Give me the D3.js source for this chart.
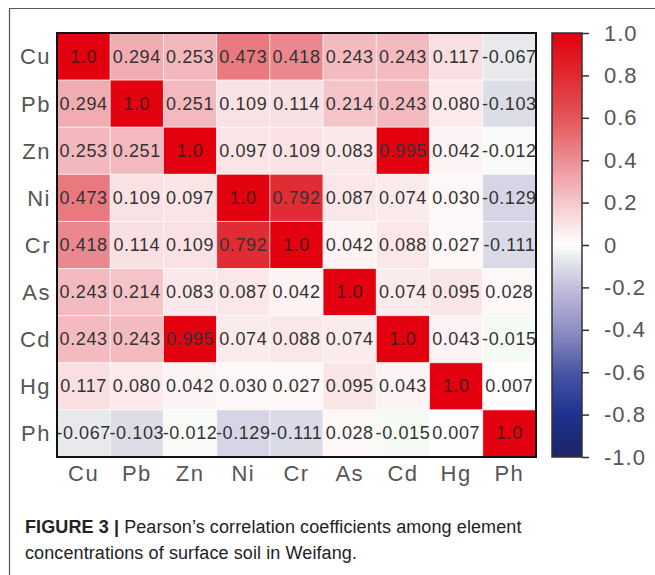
<!DOCTYPE html>
<html>
<head>
<meta charset="utf-8">
<script src="https://cdn.jsdelivr.net/npm/d3@7"></script>
<style>
  html, body { margin: 0; padding: 0; background: #fff; }
  svg { display: block; }
</style>
</head>
<body>
<div id="chart"></div>
<script>
// Element names (rows and columns share the same order)
const elements = ["Cu", "Pb", "Zn", "Ni", "Cr", "As", "Cd", "Hg", "Ph"];

// Pearson correlation coefficients, one row per element
const rowCu = [1.0, 0.294, 0.253, 0.473, 0.418, 0.243, 0.243, 0.117, -0.067];
const rowPb = [0.294, 1.0, 0.251, 0.109, 0.114, 0.214, 0.243, 0.080, -0.103];
const rowZn = [0.253, 0.251, 1.0, 0.097, 0.109, 0.083, 0.995, 0.042, -0.012];
const rowNi = [0.473, 0.109, 0.097, 1.0, 0.792, 0.087, 0.074, 0.030, -0.129];
const rowCr = [0.418, 0.114, 0.109, 0.792, 1.0, 0.042, 0.088, 0.027, -0.111];
const rowAs = [0.243, 0.214, 0.083, 0.087, 0.042, 1.0, 0.074, 0.095, 0.028];
const rowCd = [0.243, 0.243, 0.995, 0.074, 0.088, 0.074, 1.0, 0.043, -0.015];
const rowHg = [0.117, 0.080, 0.042, 0.030, 0.027, 0.095, 0.043, 1.0, 0.007];
const rowPh = [-0.067, -0.103, -0.012, -0.129, -0.111, 0.028, -0.015, 0.007, 1.0];
const matrix = [rowCu, rowPb, rowZn, rowNi, rowCr, rowAs, rowCd, rowHg, rowPh];

// Colour bar ticks and their labels
const barTicks = [1.0, 0.8, 0.6, 0.4, 0.2, 0, -0.2, -0.4, -0.6, -0.8, -1.0];
const barTickLabels = ["1.0", "0.8", "0.6", "0.4", "0.2", "0", "-0.2", "-0.4", "-0.6", "-0.8", "-1.0"];

const W = 655, H = 575;
const svg = d3.select("#chart").append("svg")
  .attr("width", W).attr("height", H)
  .style("font-family", "'Liberation Sans', Arial, Helvetica, sans-serif");

// Page frame (top and left rule)
svg.append("path")
  .attr("d", `M9.5,${H} V8.5 H${W}`)
  .attr("fill", "none").attr("stroke", "#555").attr("stroke-width", 1.2);

// Heatmap area
const hm = { x0: 57, x1: 536, y0: 33, y1: 457 };
const x = d3.scaleBand().domain(elements).range([hm.x0, hm.x1]);
const y = d3.scaleBand().domain(elements).range([hm.y0, hm.y1]);

// Red - white - blue diverging colour map
const color = d3.scaleLinear()
  .domain([-1.0, -0.8, -0.6, -0.4, -0.2, -0.02, 0, 0.2, 0.4, 0.6, 0.8, 1.0])
  .range(["#1c2566", "#1e3090", "#4a55a5", "#8e90c2", "#c4bedd", "#f3f8f2", "#ffffff",
          "#f5c8cc", "#ec8d94", "#e45558", "#e02a30", "#e3000f"])
  .interpolate(d3.interpolateRgb)
  .clamp(true);

const cells = [];
matrix.forEach((row, i) => row.forEach((v, j) => cells.push({ r: elements[i], c: elements[j], v, diag: i === j })));

const g = svg.append("g");
g.selectAll("rect.cell").data(cells).join("rect")
  .attr("class", "cell")
  .attr("x", d => x(d.c)).attr("y", d => y(d.r))
  .attr("width", x.bandwidth()).attr("height", y.bandwidth())
  .attr("fill", d => color(d.v))
  .attr("stroke", "rgba(255,255,255,0.55)").attr("stroke-width", 1);

g.selectAll("text.val").data(cells).join("text")
  .attr("class", "val")
  .attr("x", d => x(d.c) + x.bandwidth() / 2)
  .attr("y", d => y(d.r) + y.bandwidth() / 2)
  .attr("text-anchor", "middle").attr("dominant-baseline", "central")
  .attr("font-size", 18).attr("letter-spacing", 0.6)
  .attr("fill", d => d.diag ? "#4a1a1a" : "#333")
  .text(d => d.diag ? d.v.toFixed(1) : d.v.toFixed(3));

// Heatmap border
svg.append("rect")
  .attr("x", hm.x0).attr("y", hm.y0)
  .attr("width", hm.x1 - hm.x0).attr("height", hm.y1 - hm.y0)
  .attr("fill", "none").attr("stroke", "#111").attr("stroke-width", 2);

// Row and column labels
const yAxis = svg.append("g").attr("transform", `translate(${hm.x0 - 6},0)`)
  .call(d3.axisLeft(y).tickSize(0).tickPadding(0));
yAxis.select(".domain").remove();
yAxis.selectAll("text").attr("font-size", 22).attr("fill", "#555").attr("letter-spacing", 1.5)
  .style("font-family", "'Liberation Sans', Arial, sans-serif").attr("dy", "0.36em");

const xAxis = svg.append("g").attr("transform", `translate(0,${hm.y1 + 8})`)
  .call(d3.axisBottom(x).tickSize(0).tickPadding(0));
xAxis.select(".domain").remove();
xAxis.selectAll("text").attr("font-size", 22).attr("fill", "#555").attr("letter-spacing", 1.5)
  .style("font-family", "'Liberation Sans', Arial, sans-serif");

// Colour bar
const cb = { x0: 552, x1: 582, y0: 33, y1: 457 };
const cbScale = d3.scaleLinear().domain([-1, 1]).range([cb.y1, cb.y0]);
const grad = svg.append("defs").append("linearGradient")
  .attr("id", "cbgrad").attr("x1", 0).attr("y1", 1).attr("x2", 0).attr("y2", 0);
d3.range(0, 1.0001, 0.02).forEach(t => {
  grad.append("stop").attr("offset", t).attr("stop-color", color(-1 + 2 * t));
});
svg.append("rect")
  .attr("x", cb.x0).attr("y", cb.y0)
  .attr("width", cb.x1 - cb.x0).attr("height", cb.y1 - cb.y0)
  .attr("fill", "url(#cbgrad)")
  .attr("stroke", "#333").attr("stroke-width", 1.5);

const cbAxis = svg.append("g").attr("transform", `translate(${cb.x1},0)`)
  .call(d3.axisRight(cbScale).tickValues(barTicks).tickSize(7).tickPadding(15)
    .tickFormat((d, i) => barTickLabels[i]));
cbAxis.select(".domain").remove();
cbAxis.selectAll("line").attr("stroke", "#333").attr("stroke-width", 1.5);
cbAxis.selectAll("text").attr("font-size", 22).attr("fill", "#555").attr("letter-spacing", 1)
  .style("font-family", "'Liberation Sans', Arial, sans-serif");

// Figure caption
const cap = svg.append("g").attr("font-size", 18).attr("fill", "#222");
const l1 = cap.append("text").attr("x", 25).attr("y", 533).attr("letter-spacing", 0.1);
l1.append("tspan").attr("font-weight", "bold").text("FIGURE 3 | ");
l1.append("tspan").text("Pearson\u2019s correlation coefficients among element");
cap.append("text").attr("x", 25).attr("y", 559).attr("letter-spacing", 0.1)
  .text("concentrations of surface soil in Weifang.");
</script>
</body>
</html>
